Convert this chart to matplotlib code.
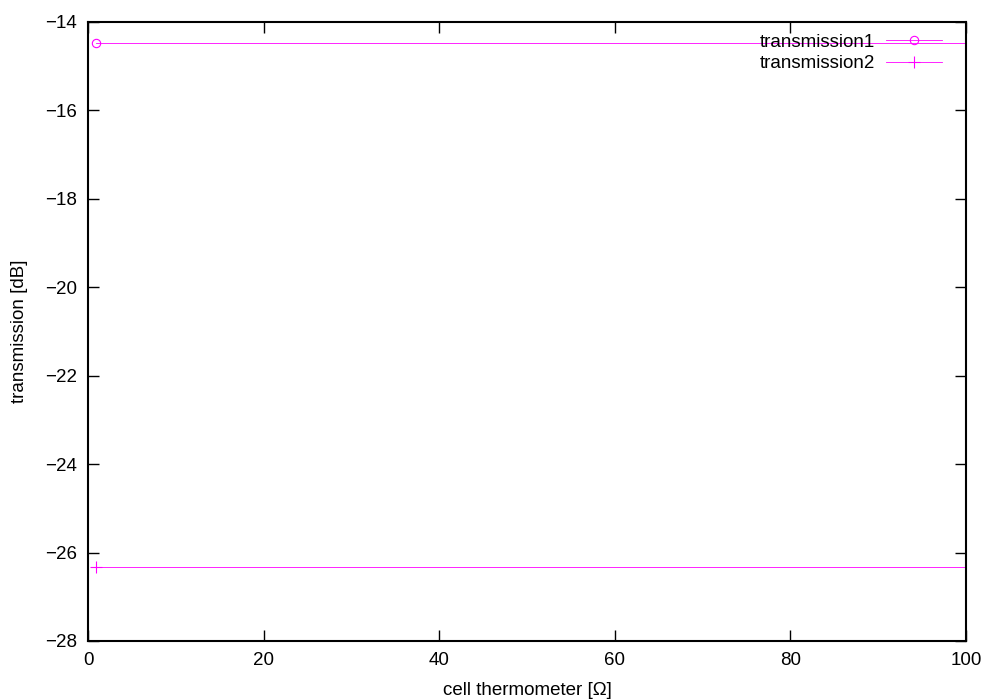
import matplotlib
matplotlib.use('Agg')
import matplotlib.pyplot as plt

# --- Данные ---
# первая точка видна, вторая уходит за правый край оси
x1 = [0.9, 150.0]
y1 = [-14.47, -14.47]
x2 = [0.9, 150.0]
y2 = [-26.33, -26.33]

plt.rcParams['font.family'] = ['Liberation Sans', 'DejaVu Sans']
plt.rcParams['font.size'] = 13.5

fig = plt.figure(figsize=(10, 7), dpi=100)
ax = fig.add_axes([0.088, 0.0843, 0.878, 0.8843])

ax.plot(x1, y1, color='#ff00ff', lw=0.6, marker='o', ms=6, mfc='none', mew=0.8,
        markevery=[0], label='transmission1')
ax.plot(x2, y2, color='#ff00ff', lw=0.6, marker='+', ms=8, mew=0.8,
        markevery=[0], label='transmission2')

ax.set_xlim(0, 100)
ax.set_ylim(-28, -14)
ax.set_xticks(range(0, 101, 20))
ax.set_yticks(range(-28, -13, 2))
ax.set_yticklabels(['\u2212%d' % abs(v) for v in range(-28, -13, 2)])
ax.tick_params(direction='in', top=True, right=True, length=8, width=1, pad=8)
for s in ax.spines.values():
    s.set_linewidth(1.5)

ax.set_xlabel('cell thermometer [\u03a9]', labelpad=9)
ax.set_ylabel('transmission [dB]', labelpad=12)

ax.legend(loc='upper right', bbox_to_anchor=(0.981, 0.993), frameon=False,
          markerfirst=False, handlelength=3.0, borderaxespad=0.0, borderpad=0.4,
          labelspacing=0.22, handletextpad=0.55)

fig.savefig('out.png')
